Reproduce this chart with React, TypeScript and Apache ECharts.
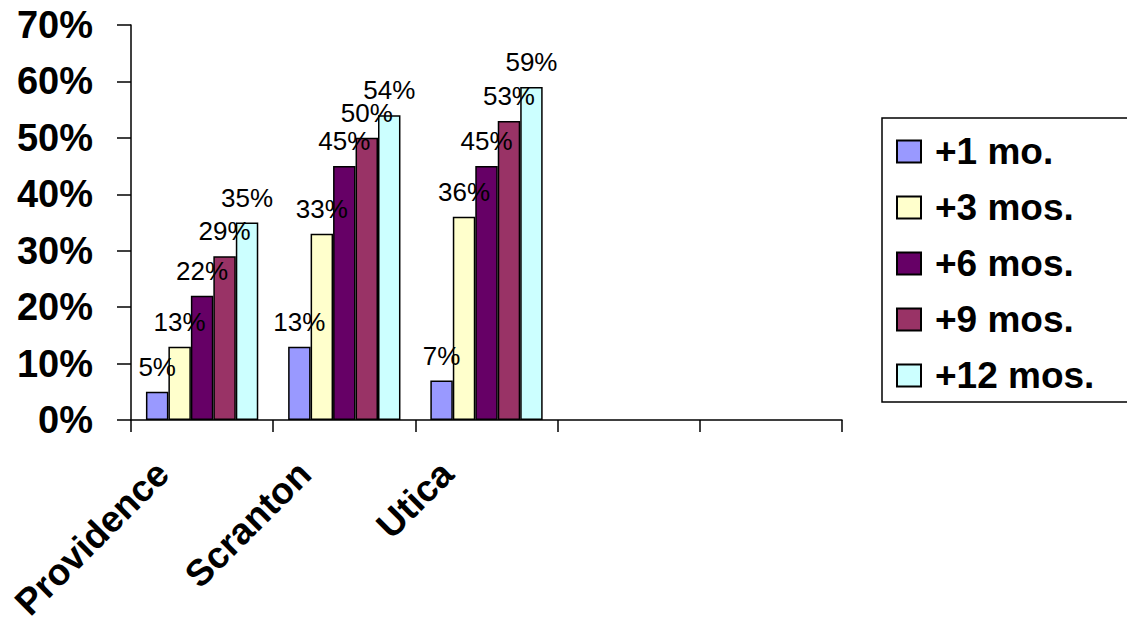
import React, { useEffect, useRef } from "react";
import * as echarts from "echarts";

const categories = ["Providence", "Scranton", "Utica", "", ""];
const seriesNames = ["+1 mo.", "+3 mos.", "+6 mos.", "+9 mos.", "+12 mos."];
const oneMonth = [5, 13, 7];
const threeMonths = [13, 33, 36];
const sixMonths = [22, 45, 45];
const nineMonths = [29, 50, 53];
const twelveMonths = [35, 54, 59];
const seriesValues = [oneMonth, threeMonths, sixMonths, nineMonths, twelveMonths];
const colors = ["#9999FF", "#FFFFCC", "#660066", "#993366", "#CCFFFF"];
const yTicks = { min: 0, max: 70, interval: 10 };

const FONT = 'Arial, "Liberation Sans", sans-serif';

export default function App() {
  const ref = useRef<HTMLDivElement>(null);
  useEffect(() => {
    if (!ref.current) return;
    const chart = echarts.init(ref.current, undefined, { renderer: "svg" });
    chart.setOption({
      animation: false,
      backgroundColor: "#ffffff",
      textStyle: { fontFamily: FONT },
      grid: {
        left: 131,
        right: 285,
        top: 25,
        bottom: 213,
        containLabel: false,
        outerBoundsMode: "none",
      },
      legend: {
        orient: "vertical",
        left: 882,
        top: 118,
        data: seriesNames,
        icon: "rect",
        itemWidth: 24,
        itemHeight: 22,
        itemGap: 19,
        padding: [15, 45, 8, 14],
        borderColor: "#000",
        borderWidth: 1.5,
        backgroundColor: "#fff",
        textStyle: {
          fontFamily: FONT,
          fontSize: 37,
          fontWeight: "bold",
          color: "#000",
          lineHeight: 37,
          padding: [0, 0, 0, 9],
        },
      },
      xAxis: {
        type: "category",
        data: categories,
        boundaryGap: true,
        axisLine: { show: true, lineStyle: { color: "#000", width: 1.5 } },
        axisTick: { show: true, length: 12, alignWithLabel: false, lineStyle: { color: "#000", width: 1.5 } },
        axisLabel: {
          interval: 0,
          rotate: 45,
          margin: 8,
          padding: [0, 56, 0, 0],
          fontFamily: FONT,
          fontSize: 37,
          fontWeight: "bold",
          color: "#000",
        },
        splitLine: { show: false },
      },
      yAxis: {
        type: "value",
        min: yTicks.min,
        max: yTicks.max,
        interval: yTicks.interval,
        axisLine: { show: true, lineStyle: { color: "#000", width: 1.5 } },
        axisTick: { show: true, length: 14, lineStyle: { color: "#000", width: 1.5 } },
        axisLabel: {
          formatter: "{value}%",
          margin: 38,
          fontFamily: FONT,
          fontSize: 38,
          fontWeight: "bold",
          color: "#000",
        },
        splitLine: { show: false },
      },
      series: seriesNames.map((name, i) => ({
        name,
        type: "bar",
        data: seriesValues[i],
        barGap: "0%",
        barCategoryGap: "21%",
        itemStyle: { color: colors[i], borderColor: "#000", borderWidth: 1.5 },
        label: {
          show: true,
          position: "top",
          distance: 12,
          formatter: "{c}%",
          fontFamily: FONT,
          fontSize: 26,
          color: "#000",
        },
      })),
    });
    return () => chart.dispose();
  }, []);
  return <div ref={ref} style={{ width: 1127, height: 633, position: "absolute", left: 0, top: 0 }} />;
}
